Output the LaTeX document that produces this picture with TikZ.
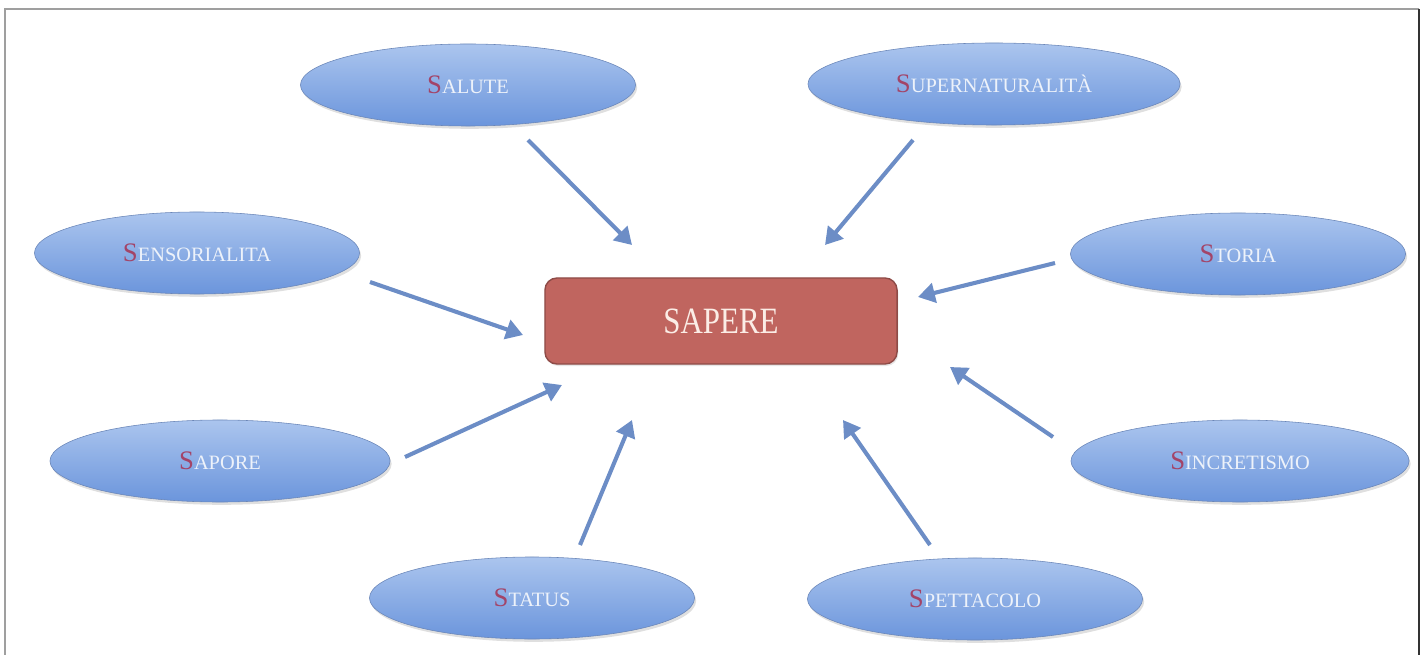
\documentclass[tikz,border=0pt]{standalone}
\usepackage{fontspec}
\setmainfont{Liberation Serif}
\usepackage{xcolor}
\usepackage{graphicx}
\usetikzlibrary{shapes.geometric}
\usetikzlibrary{arrows.meta}
\usetikzlibrary{shadows}
\definecolor{ovaltop}{HTML}{ABC5EE}
\definecolor{ovalbot}{HTML}{6B95DC}
\definecolor{ovalline}{HTML}{6A86B8}
\definecolor{ovaltext}{HTML}{EDF2FA}
\definecolor{boxfill}{HTML}{C0655F}
\definecolor{boxline}{HTML}{8E4B47}
\definecolor{boxtext}{HTML}{FBEDE6}
\definecolor{sred}{HTML}{A34468}
\definecolor{arrowblue}{HTML}{6C8DC6}
\tikzset{
  oval/.style={ellipse, draw=ovalline, thin, top color=ovaltop, bottom color=ovalbot,
    minimum width=8.375cm, minimum height=2.05cm, inner sep=0, text=ovaltext,
    drop shadow={opacity=.25, shadow xshift=.04cm, shadow yshift=-.07cm}},
  core/.style={rectangle, rounded corners=.3cm, draw=boxline, line width=1pt, fill=boxfill,
    minimum width=8.8cm, minimum height=2.15cm, text=boxtext,
    font=\fontsize{22}{24}\selectfont,
    drop shadow={opacity=.2, shadow xshift=.03cm, shadow yshift=-.05cm}},
  toward/.style={arrowblue, line width=2.9pt, -{Triangle[length=12pt,width=14pt]}}
}
\newcommand{\sword}[1]{{\fontsize{19}{20}\selectfont\color{sred}S}{\fontsize{14.5}{16}\selectfont #1}}

\begin{document}
\begin{tikzpicture}[x=0.025cm, y=-0.025cm]
\useasboundingbox (0,0) rectangle (1424,655);
% frame
\draw[gray!75, line width=1.5pt] (5,655) -- (5,9) -- (1419,9);
\draw[black!80, line width=1.2pt] (1419,9) -- (1419,655);

% centre
\node[core] (sapere) at (721,321) {\scalebox{1}[1.2]{SAPERE}};

% the eight S
\node[oval] (salute) at (468,85) {\sword{ALUTE}};
\node[oval, minimum width=9.3cm] (super) at (994,84) {\sword{UPERNATURALITÀ}};
\node[oval, minimum width=8.125cm] (sens) at (197,253) {\sword{ENSORIALITA}};
\node[oval] (storia) at (1238,254) {\sword{TORIA}};
\node[oval, minimum width=8.5cm] (sapore) at (220,461) {\sword{APORE}};
\node[oval, minimum width=8.45cm] (sincr) at (1240,461) {\sword{INCRETISMO}};
\node[oval, minimum width=8.125cm] (status) at (532,598) {\sword{TATUS}};
\node[oval] (spett) at (975,599) {\sword{PETTACOLO}};

% arrows
\draw[toward] ([shift={(60,55)}]salute.center) -- ([shift={(-89,-76)}]sapere.center);
\draw[toward] ([shift={(-81,56)}]super.center) -- ([shift={(104,-76)}]sapere.center);
\draw[toward] ([shift={(173,29)}]sens.center) -- ([shift={(-198,14)}]sapere.center);
\draw[toward] ([shift={(-183,9)}]storia.center) -- ([shift={(197,-24)}]sapere.center);
\draw[toward] ([shift={(185,-4)}]sapore.center) -- ([shift={(-159,64)}]sapere.center);
\draw[toward] ([shift={(-187,-24)}]sincr.center) -- ([shift={(229,46)}]sapere.center);
\draw[toward] ([shift={(48,-53)}]status.center) -- ([shift={(-89,99)}]sapere.center);
\draw[toward] ([shift={(-45,-54)}]spett.center) -- ([shift={(122,99)}]sapere.center);
\end{tikzpicture}
\end{document}
